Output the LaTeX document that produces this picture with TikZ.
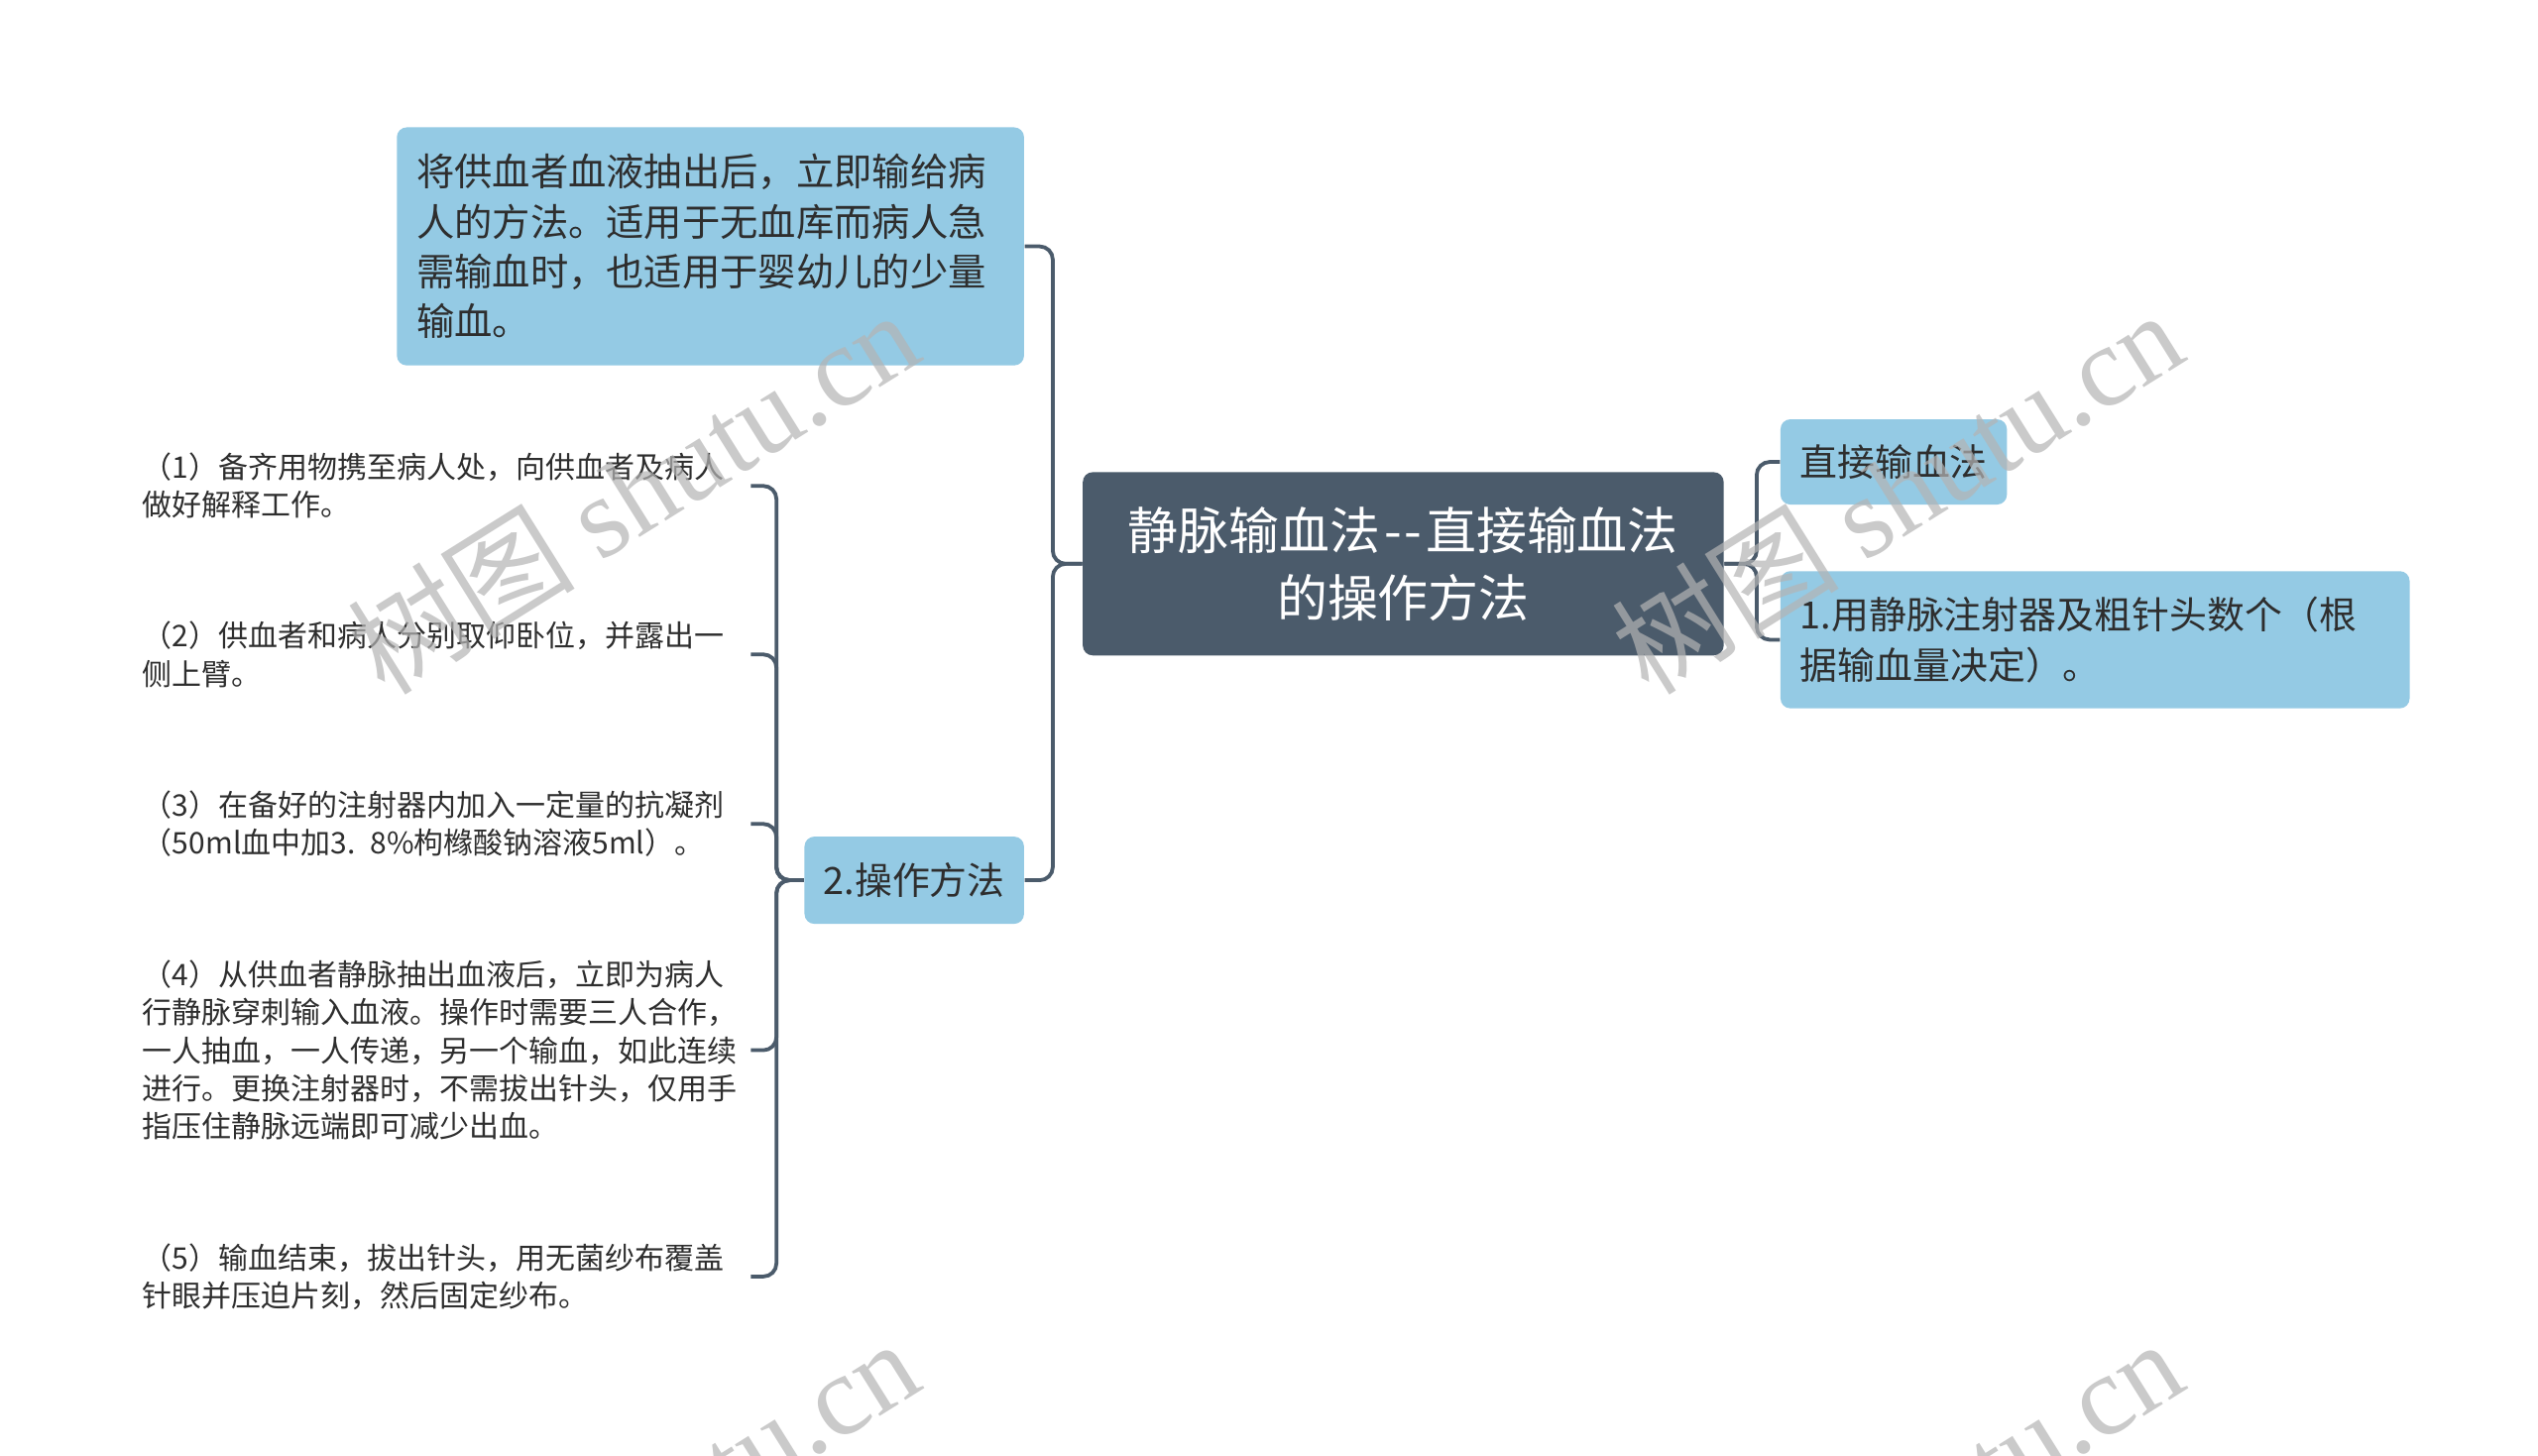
\documentclass[tikz,border=0pt]{standalone}
\usepackage{fontspec}
\setmainfont{Noto Sans CJK SC}
\newfontfamily\wmserif{Liberation Serif}
\newfontfamily\wmcjk{Noto Sans CJK SC}
\definecolor{boxblue}{HTML}{94CAE4}
\definecolor{darkslate}{HTML}{4B5B6B}
\definecolor{txtdark}{HTML}{2E2E2E}
\definecolor{wmgray}{HTML}{B4B4B4}
\begin{document}
\begin{tikzpicture}[x=0.3pt,y=-0.3pt,
  lightbox/.style={fill=boxblue, rounded corners=3pt, text=txtdark, inner sep=0pt},
  rootbox/.style={fill=darkslate, rounded corners=3pt, text=white, align=center, inner sep=0pt},
  itemtext/.style={text=txtdark, inner sep=0pt, text width=186pt, align=left,
    font=\fontsize{9.1pt}{11.6pt}\selectfont, anchor=west},
  link/.style={draw=darkslate, line width=1.15pt, rounded corners=4pt},
  wm/.style={text=wmgray, opacity=0.7, rotate=32, anchor=base west, inner sep=0pt,
    font=\fontsize{35pt}{35pt}\selectfont}
]
\useasboundingbox (0,0) rectangle (2590,1486.1);
\fill[white] (0,0) rectangle (2590,1486.1);

% root
\node[rootbox, minimum width=196.2pt, minimum height=56.1pt,
  font=\fontsize{15.46pt}{20.7pt}\selectfont] (root) at (1432,575.5)
  {静脉输血法\hspace{0.08em}-\hspace{0.04em}-\hspace{0.08em}直接输血法\\的操作方法};

% left branch
\node[lightbox, minimum width=192pt, minimum height=72.9pt, text width=180pt, align=left,
  font=\fontsize{11.63pt}{15.3pt}\selectfont] (desc) at (725,251.5)
  {将供血者血液抽出后，立即输给病\\人的方法。适用于无血库而病人急\\需输血时，也适用于婴幼儿的少量\\输血。};
\node[lightbox, minimum width=67.2pt, minimum height=26.7pt,
  font=\fontsize{11.5pt}{15.3pt}\selectfont] (op) at (933,898.5) {2.操作方法};

% steps
\node[itemtext] (s1) at (145,496) {（1）备齐用物携至病人处，向供血者及病人\\做好解释工作。};
\node[itemtext] (s2) at (145,668) {（2）供血者和病人分别取仰卧位，并露出一\\侧上臂。};
\node[itemtext] (s3) at (145,841) {（3）在备好的注射器内加入一定量的抗凝剂\\（50ml血中加3. 8\%枸橼酸钠溶液5ml）。};
\node[itemtext] (s4) at (145,1072) {（4）从供血者静脉抽出血液后，立即为病人\\行静脉穿刺输入血液。操作时需要三人合作，\\一人抽血，一人传递，另一个输血，如此连续\\进行。更换注射器时，不需拔出针头，仅用手\\指压住静脉远端即可减少出血。};
\node[itemtext] (s5) at (145,1303) {（5）输血结束，拔出针头，用无菌纱布覆盖\\针眼并压迫片刻，然后固定纱布。};

% right branch
\node[lightbox, minimum width=69.3pt, minimum height=26.1pt,
  font=\fontsize{11.5pt}{15.3pt}\selectfont] (r1) at (1932.5,471.5) {直接输血法};
\node[lightbox, minimum width=192.6pt, minimum height=42pt, text width=180.6pt, align=left,
  font=\fontsize{11.5pt}{15.3pt}\selectfont] (r2) at (2138,653)
  {1.用静脉注射器及粗针头数个（根\\据输血量决定）。};

% connectors
\draw[link] (root.west) -- ++(-30,0) |- (desc.east);
\draw[link] (root.west) -- ++(-30,0) |- (op.east);
\draw[link] (root.east) -- ++(33,0) |- (r1.west);
\draw[link] (root.east) -- ++(33,0) |- (r2.west);
\foreach \s in {s1,s2,s3,s4,s5}{
  \draw[link] (op.west) -- ++(-28,0) |- (\s.east);
}

% watermarks
\begin{scope}
\clip (0,0) rectangle (2590,1486.1);
\node[wm] (wm1) at (392,712) {\wmcjk 树图 \wmserif shutu.cn};
\node[wm] (wm2) at (1682,712) {\wmcjk 树图 \wmserif shutu.cn};
\node[wm] (wm3) at (392,1762) {\wmcjk 树图 \wmserif shutu.cn};
\node[wm] (wm4) at (1682,1762) {\wmcjk 树图 \wmserif shutu.cn};
\end{scope}
\end{tikzpicture}
\end{document}
